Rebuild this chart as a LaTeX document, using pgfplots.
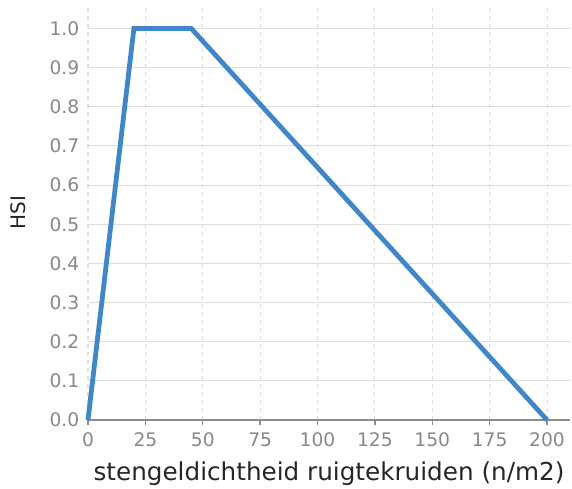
\documentclass[border=0pt]{standalone}
\usepackage{fontspec}
\setmainfont{DejaVu Sans}
\usepackage{pgfplots}
\pgfplotsset{compat=1.18}
\definecolor{hsiblue}{HTML}{3F87C8}
\definecolor{ticktxt}{HTML}{888888}
\definecolor{gridc}{HTML}{DDDDDD}
\begin{document}
\begin{tikzpicture}[x=0.75pt,y=0.75pt]
\begin{axis}[
  at={(0,0)}, anchor=origin,
  scale only axis,
  width=361.5pt, height=311.25pt,
  xmin=0, xmax=210, ymin=0, ymax=1.06,
  xtick={0,25,...,200},
  ytick={0,0.1,...,1.0},
  yticklabel style={xshift=-3pt,/pgf/number format/.cd,fixed,fixed zerofill,precision=1},
  xticklabel style={yshift=-2pt},
  /pgf/number format/assume math mode=true,
  tick label style={font=\fontsize{14}{16}\selectfont, text=ticktxt},
  xlabel={stengeldichtheid ruigtekruiden (n/m2)},
  ylabel={HSI},
  label style={font=\fontsize{18.5}{20}\selectfont, text=black!85},
  xlabel style={yshift=-4pt},
  ylabel style={font=\fontsize{15}{18}\selectfont, yshift=11pt},
  axis x line*=bottom,
  axis y line*=left,
  x axis line style={draw=black!45, line width=1pt, -},
  y axis line style={draw=none},
  xtick style={draw=black!45, line width=1pt},
  ytick style={draw=none},
  xtick pos=bottom, xtick align=outside,
  major tick length=4pt,
  ymajorgrids, xmajorgrids,
  y grid style={gridc, line width=0.8pt},
  x grid style={gridc, dashed, line width=0.8pt},
  clip=false,
]
\addplot[hsiblue, line width=3.6pt, line join=miter] coordinates {
  (0,0) (20,1) (45,1) (200,0)
};
\end{axis}
\pgfresetboundingbox
\path (-88,-69) rectangle (484,420);
\end{tikzpicture}
\end{document}
